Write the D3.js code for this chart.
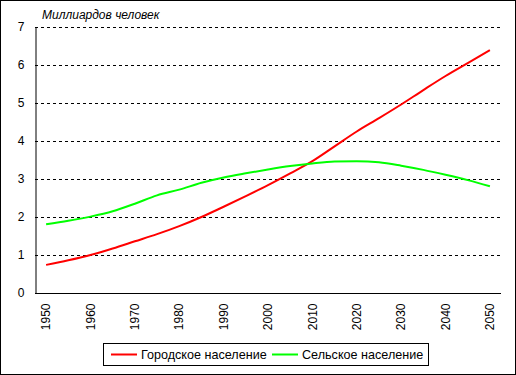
<!DOCTYPE html>
<html><head><meta charset="utf-8">
<script src="https://cdn.jsdelivr.net/npm/d3@7"></script>
<style>body{margin:0;background:#fff}svg{display:block}text{font-family:Arial,"Liberation Sans",sans-serif}</style>
</head><body><svg id="c" width="516" height="375"></svg>
<script>
const years = [1950,1955,1960,1965,1970,1975,1980,1985,1990,1995,2000,2005,2010,2015,2020,2025,2030,2035,2040,2045,2050];
const urban = [0.74,0.86,1.0,1.17,1.36,1.55,1.76,2.0,2.27,2.55,2.84,3.15,3.47,3.86,4.25,4.6,4.96,5.34,5.71,6.05,6.39];
const rural = [1.81,1.9,2.01,2.15,2.35,2.57,2.72,2.9,3.04,3.15,3.25,3.34,3.41,3.46,3.47,3.44,3.35,3.24,3.11,2.97,2.81];
const yTicks = [0,1,2,3,4,5,6,7];
const xLabels = [1950,1960,1970,1980,1990,2000,2010,2020,2030,2040,2050];
const seriesNames = ["Городское население","Сельское население"];
const seriesColors = ["#ff0000","#00ff00"];
const yTitle = "Миллиардов человек";

const svg = d3.select("#c");
svg.append("rect").attr("x",0.5).attr("y",0.5).attr("width",515).attr("height",374)
  .attr("fill","#fff").attr("stroke","#000");

const L=35, R=501, T=27, B=293;
const x = d3.scaleBand().domain(years).range([L,R]);
const xc = d => x(d)+x.bandwidth()/2;
const y = d3.scaleLinear().domain([0,7]).range([B,T]);

// gridlines
svg.append("g").selectAll("line").data(yTicks.filter(t=>t>0)).join("line")
  .attr("x1",L).attr("x2",503).attr("y1",d=>Math.round(y(d))+0.5).attr("y2",d=>Math.round(y(d))+0.5)
  .attr("stroke","#000").attr("stroke-dasharray","3,3");

// y axis
const ya = svg.append("g").attr("transform",`translate(${L+0.5},0)`)
  .call(d3.axisLeft(y).tickValues(yTicks).tickSize(0).tickPadding(11).tickFormat(d3.format("d")));
ya.select(".domain").attr("stroke","#000");
ya.selectAll("text").attr("font-size",12).attr("fill","#000");

// x axis
const xa = svg.append("g").attr("transform",`translate(0,${B+0.5})`)
  .call(d3.axisBottom(x).tickValues(xLabels).tickSize(0).tickFormat(d3.format("d")));
xa.select(".domain").attr("stroke","#000").attr("d",`M${L},0H${R}`);
xa.selectAll("text").attr("font-size",12).attr("fill","#000")
  .attr("transform","rotate(-90)").attr("text-anchor","end").attr("dy","0.35em")
  .attr("x",-10).attr("y",0);

// y title
svg.append("text").attr("x",42).attr("y",19).attr("font-size",12).attr("font-style","italic")
  .text(yTitle);

// lines
const line = d3.line().x((d,i)=>xc(years[i])).y(d=>y(d)).curve(d3.curveMonotoneX);
[urban,rural].forEach((s,i)=>{
  svg.append("path").attr("d",line(s)).attr("fill","none")
    .attr("stroke",seriesColors[i]).attr("stroke-width",2);
});

// legend
const lg = svg.append("g");
lg.append("rect").attr("x",103.5).attr("y",343.5).attr("width",325).attr("height",22)
  .attr("fill","#fff").attr("stroke","#000");
const lx = [111,272];
seriesNames.forEach((n,i)=>{
  lg.append("line").attr("x1",lx[i]).attr("x2",lx[i]+26).attr("y1",354.5).attr("y2",354.5)
    .attr("stroke",seriesColors[i]).attr("stroke-width",2);
  lg.append("text").attr("x",lx[i]+30).attr("y",359).attr("font-size",12.6).text(n);
});
</script></body></html>
